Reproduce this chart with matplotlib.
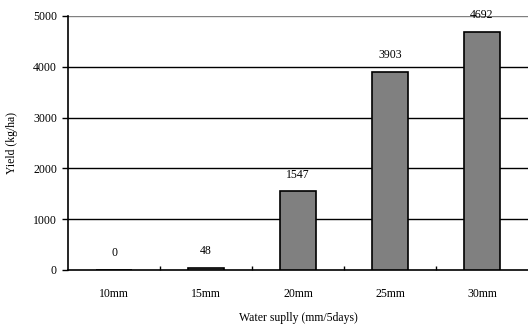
import numpy as np
import matplotlib.pyplot as plt

plt.rcParams['font.family'] = ['Liberation Serif', 'DejaVu Serif']
plt.rcParams['font.size'] = 8.5

categories = ['10mm', '15mm', '20mm', '25mm', '30mm']
yields = [0, 48, 1547, 3903, 4692]
y_ticks = [0, 1000, 2000, 3000, 4000, 5000]

fig = plt.figure(figsize=(5.28, 3.27), dpi=100)
ax = fig.add_axes([68/528, 1 - 270/327, 460/528, 254/327])

x = np.arange(len(categories))
bars = ax.bar(x, yields, width=0.39, color='#808080', edgecolor='black', linewidth=1.2, zorder=3)

for xi, v in zip(x, yields):
    ax.annotate(str(v), (xi, v), xytext=(0, 12), textcoords='offset points',
                ha='center', va='center')

ax.set_xlim(-0.5, len(categories) - 0.5)
ax.set_ylim(0, 5000)
ax.set_yticks(y_ticks)
ax.set_xticks(x)
ax.set_xticklabels(categories)
ax.set_xticks(np.arange(0.5, len(categories) - 0.5, 1), minor=True)

# horizontal gridlines, top one gray
for t in y_ticks[1:]:
    col = '#808080' if t == 5000 else 'black'
    ax.axhline(t, color=col, linewidth=1.0, zorder=1)

ax.spines['top'].set_visible(False)
ax.spines['right'].set_visible(False)
ax.spines['left'].set_linewidth(1.2)
ax.spines['bottom'].set_linewidth(1.2)

ax.tick_params(axis='y', direction='out', length=4, width=1, pad=4)
ax.tick_params(axis='x', which='major', length=0, pad=13)
ax.tick_params(axis='x', which='minor', direction='in', length=3, width=1)

ax.set_ylabel('Yield (kg/ha)', labelpad=11)
ax.set_xlabel('Water suplly (mm/5days)', va='center')
ax.xaxis.set_label_coords((298 - 68) / 460, -(318 - 270) / 254)

fig.savefig('out.png', dpi=100)
